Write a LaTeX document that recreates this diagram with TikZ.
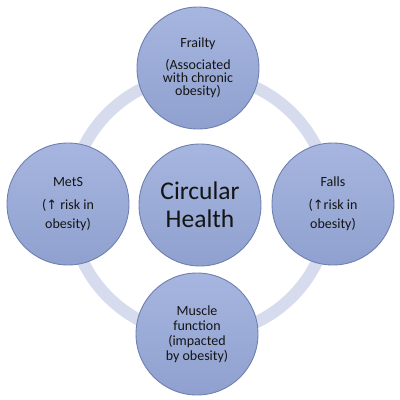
\documentclass[tikz,border=0pt]{standalone}
\usepackage{fontspec}
\setmainfont{Carlito}
\newfontfamily\djv{DejaVu Sans}
\definecolor{ringc}{HTML}{D6DCEE}
\definecolor{fillc}{HTML}{97A9DA}
\definecolor{edgec}{HTML}{6F80B0}
\definecolor{txtc}{HTML}{141414}
\begin{document}
\begin{tikzpicture}[x=1pt,y=-1pt,
  bubble/.style={circle,draw=edgec,line width=0.9pt,
    top color=fillc!85!white,bottom color=fillc!95!black,
    minimum size=122pt,inner sep=0pt,align=center,text=txtc},
  small/.style={font=\fontsize{14}{13}\selectfont}]
\useasboundingbox (0,0) rectangle (400,400);
\fill[white] (0,0) rectangle (400,400);
\coordinate (c0) at (200,205);
\draw[ringc,line width=12pt] (c0) circle[radius=130];
\node[bubble,font=\fontsize{25.5}{28}\selectfont] (center) at (200,205) {Circular\\Health};
\node[bubble,small] (frailty) at (198,68) {Frailty\\[9pt](Associated\\with chronic\\obesity)};
\node[bubble,small] (mets) at (68,204) {MetS\\[10pt]({\djv\fontsize{13}{13}\selectfont ↑} risk in\\[6pt]obesity)};
\node[bubble,small] (falls) at (333,204) {Falls\\[10pt]({\djv\fontsize{13}{13}\selectfont ↑}risk in\\[6pt]obesity)};
\node[bubble,small,font=\fontsize{14}{15}\selectfont] (muscle) at (197,334) {Muscle\\function\\(impacted\\by obesity)};
\end{tikzpicture}
\end{document}
